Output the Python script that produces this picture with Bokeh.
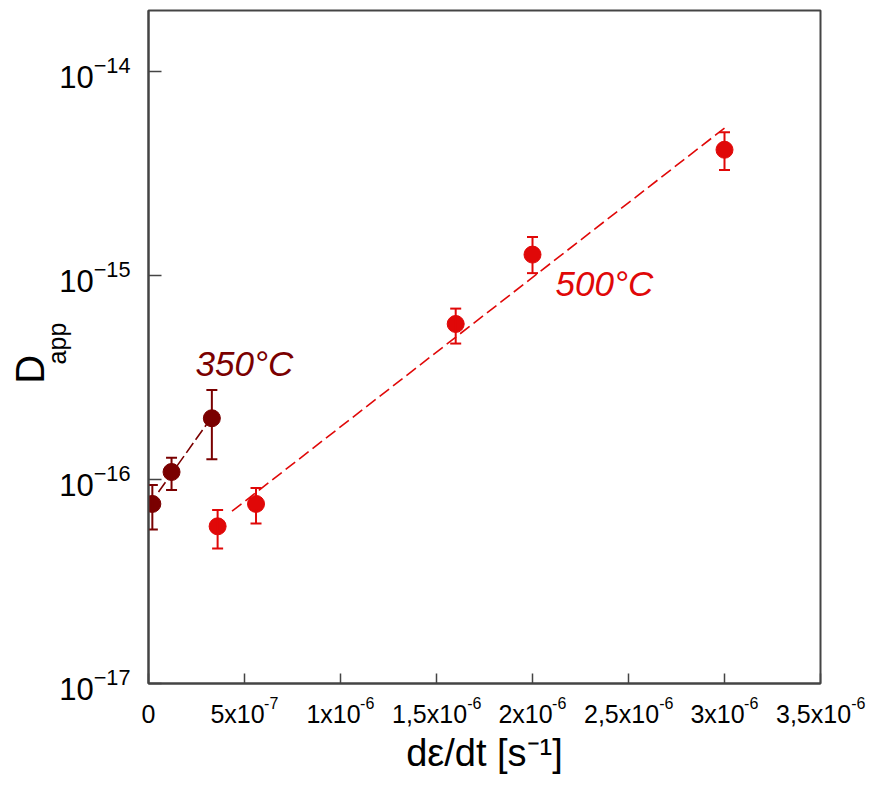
from bokeh.plotting import figure
from bokeh.models import (Range1d, FixedTicker, Label, Whisker, ColumnDataSource, TeeHead,
                          CustomJSTickFormatter, LogTickFormatter, LinearAxis, LogAxis)
from bokeh.embed import file_html
from bokeh.resources import INLINE

# ---------------- data ----------------
x350 = [2.0e-8, 1.2e-7, 3.3e-7]
y350 = [7.6e-17, 1.09e-16, 2.0e-16]
up350 = [9.4e-17, 1.28e-16, 2.75e-16]
lo350 = [5.7e-17, 8.9e-17, 1.26e-16]

x500 = [3.6e-7, 5.6e-7, 1.6e-6, 2.0e-6, 3.0e-6]
y500 = [5.9e-17, 7.6e-17, 5.8e-16, 1.27e-15, 4.15e-15]
up500 = [7.1e-17, 9.1e-17, 6.9e-16, 1.55e-15, 5.05e-15]
lo500 = [4.6e-17, 6.1e-17, 4.65e-16, 1.03e-15, 3.3e-15]

fit350_x = [5.2e-8, 3.05e-7]
fit350_y = [8.7e-17, 1.88e-16]
fit500_x = [4.35e-7, 3.0e-6]
fit500_y = [7.0e-17, 5.3e-15]

xtick_vals = [0, 5e-7, 1e-6, 1.5e-6, 2e-6, 2.5e-6, 3e-6, 3.5e-6]
xtick_base = ["0", "5x10", "1x10", "1,5x10", "2x10", "2,5x10", "3x10", "3,5x10"]
xtick_exp = ["", "-7", "-6", "-6", "-6", "-6", "-6", "-6"]
ytick_vals = [1e-17, 1e-16, 1e-15, 1e-14]

x_title = "d\u03b5/dt [s\u207b\u00b9]"
y_title_main = "D"
y_title_sub = "app"

C350 = "#7a0000"
C500 = "#e00808"
AX = "#444444"
FONT = "Liberation Sans"
NB = "\u00a0"

# approximate Liberation Sans advance widths (em), used only to pad labels
CW = {"x": .5, ",": .278, "-": .333}
def tw(s, fs):
    return sum(CW.get(c, .556) for c in s) * fs

XB, XE = 25, 16
base_lbls, exp_lbls = [], []
for b, e in zip(xtick_base, xtick_exp):
    if e:
        base_lbls.append(b + NB * round(tw(e, XE) / (0.278 * XB)))
        exp_lbls.append(NB * round(tw(b, XB) / (0.278 * XE)) + e)
    else:
        base_lbls.append(b)
        exp_lbls.append("")

# ---------------- figure ----------------
p = figure(width=870, height=790, x_range=Range1d(0, 3.5e-6), y_range=Range1d(1e-17, 2.0e-14),
           y_axis_type="log", output_backend="svg", toolbar_location=None,
           min_border_left=148, min_border_right=50, min_border_top=10, min_border_bottom=107)
p.background_fill_color = "white"
p.border_fill_color = "white"
p.outline_line_color = AX
p.outline_line_width = 2
p.xgrid.visible = False
p.ygrid.visible = False

for ax, ticks, tin in ((p.xaxis, xtick_vals, 10), (p.yaxis, ytick_vals, 13)):
    ax.ticker = FixedTicker(ticks=ticks, minor_ticks=[])
    ax.major_tick_in = tin
    ax.major_tick_out = 0
    ax.minor_tick_line_color = None
    ax.major_tick_line_color = AX
    ax.major_tick_line_width = 1.5
    ax.axis_line_color = AX
    ax.axis_line_width = 2
    ax.major_label_text_font = FONT
    ax.major_label_text_color = "black"
    ax.axis_label_text_font = FONT
    ax.axis_label_text_font_style = "normal"
    ax.axis_label_text_color = "black"

# inner x axis: exponents of the tick labels
p.xaxis.formatter = CustomJSTickFormatter(args=dict(labels=exp_lbls), code="return labels[index]")
p.xaxis.major_label_text_font_size = f"{XE}px"
p.xaxis.major_label_standoff = 11

# outer x axis: bases of the tick labels and the title
xb = LinearAxis(ticker=FixedTicker(ticks=xtick_vals, minor_ticks=[]),
                formatter=CustomJSTickFormatter(args=dict(labels=base_lbls), code="return labels[index]"),
                axis_line_color=None, major_tick_line_color=None, minor_tick_line_color=None,
                major_tick_in=0, major_tick_out=0, major_label_standoff=-15,
                major_label_text_font=FONT, major_label_text_font_size=f"{XB}px",
                major_label_text_color="black",
                axis_label=x_title, axis_label_text_font=FONT, axis_label_text_font_size="38px",
                axis_label_text_font_style="normal", axis_label_text_color="black",
                axis_label_standoff=1)
p.add_layout(xb, "below")

# inner y axis: tick labels and the subscript of the title
p.yaxis.formatter = LogTickFormatter()
p.yaxis.major_label_text_font_size = "31px"
p.yaxis.major_label_standoff = 18
p.yaxis.axis_label = NB + y_title_sub
p.yaxis.axis_label_text_font_size = "25px"
p.yaxis.axis_label_standoff = -15

# outer y axis: main letter of the title
yb = LogAxis(ticker=FixedTicker(ticks=[], minor_ticks=[]),
             axis_line_color=None, major_tick_line_color=None, minor_tick_line_color=None,
             major_tick_in=0, major_tick_out=0, major_label_standoff=0,
             axis_label=y_title_main + NB * 4, axis_label_text_font=FONT,
             axis_label_text_font_size="40px", axis_label_text_font_style="normal",
             axis_label_text_color="black", axis_label_standoff=-11)
p.add_layout(yb, "left")

# fit lines
p.line(fit350_x, fit350_y, line_color=C350, line_width=1.6, line_dash="12 4")
p.line(fit500_x, fit500_y, line_color=C500, line_width=1.6, line_dash="12 5")

# error bars + points
for xs, ys, ups, los, col in ((x350, y350, up350, lo350, C350), (x500, y500, up500, lo500, C500)):
    src = ColumnDataSource(dict(x=xs, y=ys, upper=ups, lower=los))
    w = Whisker(base="x", upper="upper", lower="lower", source=src, dimension="height",
                line_color=col, line_width=2,
                upper_head=TeeHead(size=11, line_color=col, line_width=2),
                lower_head=TeeHead(size=11, line_color=col, line_width=2),
                level="glyph")
    p.add_layout(w)
    p.scatter("x", "y", source=src, size=17, fill_color=col, line_color=col)

# ---------------- series labels ----------------
p.add_layout(Label(x=2.45e-7, y=3.17e-16, text="350\u00b0C", text_align="left", y_offset=14,
                   text_baseline="alphabetic", text_font=FONT, text_font_size="35px",
                   text_font_style="italic", text_color=C350))
p.add_layout(Label(x=2.12e-6, y=7.85e-16, text="500\u00b0C", text_align="left", y_offset=14,
                   text_baseline="alphabetic", text_font=FONT, text_font_size="35px",
                   text_font_style="italic", text_color=C500))

open("out.html", "w").write(file_html(p, INLINE))
